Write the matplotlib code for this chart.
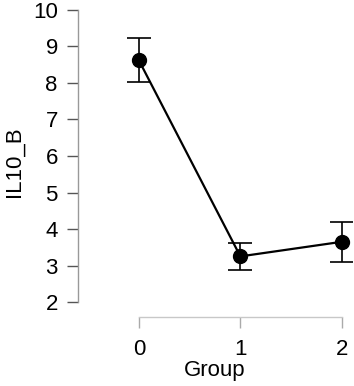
import matplotlib
matplotlib.use("Agg")
import matplotlib.pyplot as plt

plt.rcParams["font.family"] = ["Liberation Sans", "DejaVu Sans"]

groups = [0, 1, 2]
means = [8.62, 3.25, 3.65]
lower = [8.03, 2.87, 3.10]
upper = [9.22, 3.62, 4.18]
yticks = [2, 3, 4, 5, 6, 7, 8, 9, 10]

W, H = 354, 386
fig = plt.figure(figsize=(W / 100, H / 100), dpi=100)
# axes box in pixel coordinates
x0, x1 = 78, 352
y_top, y_bot = 6.3, 317
ax = fig.add_axes([x0 / W, 1 - y_bot / H, (x1 - x0) / W, (y_bot - y_top) / H])

err = [[m - l for m, l in zip(means, lower)], [u - m for m, u in zip(means, upper)]]
ax.errorbar(groups, means, yerr=err, fmt="none", ecolor="black",
            elinewidth=1.2, capsize=8.5, capthick=1.2, zorder=2)
ax.plot(groups, means, color="black", lw=1.6, marker="o", ms=10, zorder=3)

ax.set_xlim(-0.6, 2.1)
ax.set_ylim(1.59, 10.1)

for s in ["top", "right"]:
    ax.spines[s].set_visible(False)
ax.spines["left"].set_bounds(2, 10)
ax.spines["bottom"].set_bounds(0, 2)
ax.spines["left"].set_color("#999999")
ax.spines["bottom"].set_color("#c8c8c8")
ax.spines["left"].set_linewidth(1.0)
ax.spines["bottom"].set_linewidth(1.0)

ax.set_yticks(yticks)
ax.set_xticks(groups)
ax.tick_params(axis="y", length=8, width=1.0, color="#555555", pad=6.5, labelsize=16)
ax.tick_params(axis="x", length=8, width=1.0, color="#aaaaaa", pad=8, labelsize=16)

ax.set_xlabel("Group", fontsize=16, labelpad=0)
ax.set_ylabel("IL10_B", fontsize=16, labelpad=6)

plt.savefig("out.png", dpi=100)
